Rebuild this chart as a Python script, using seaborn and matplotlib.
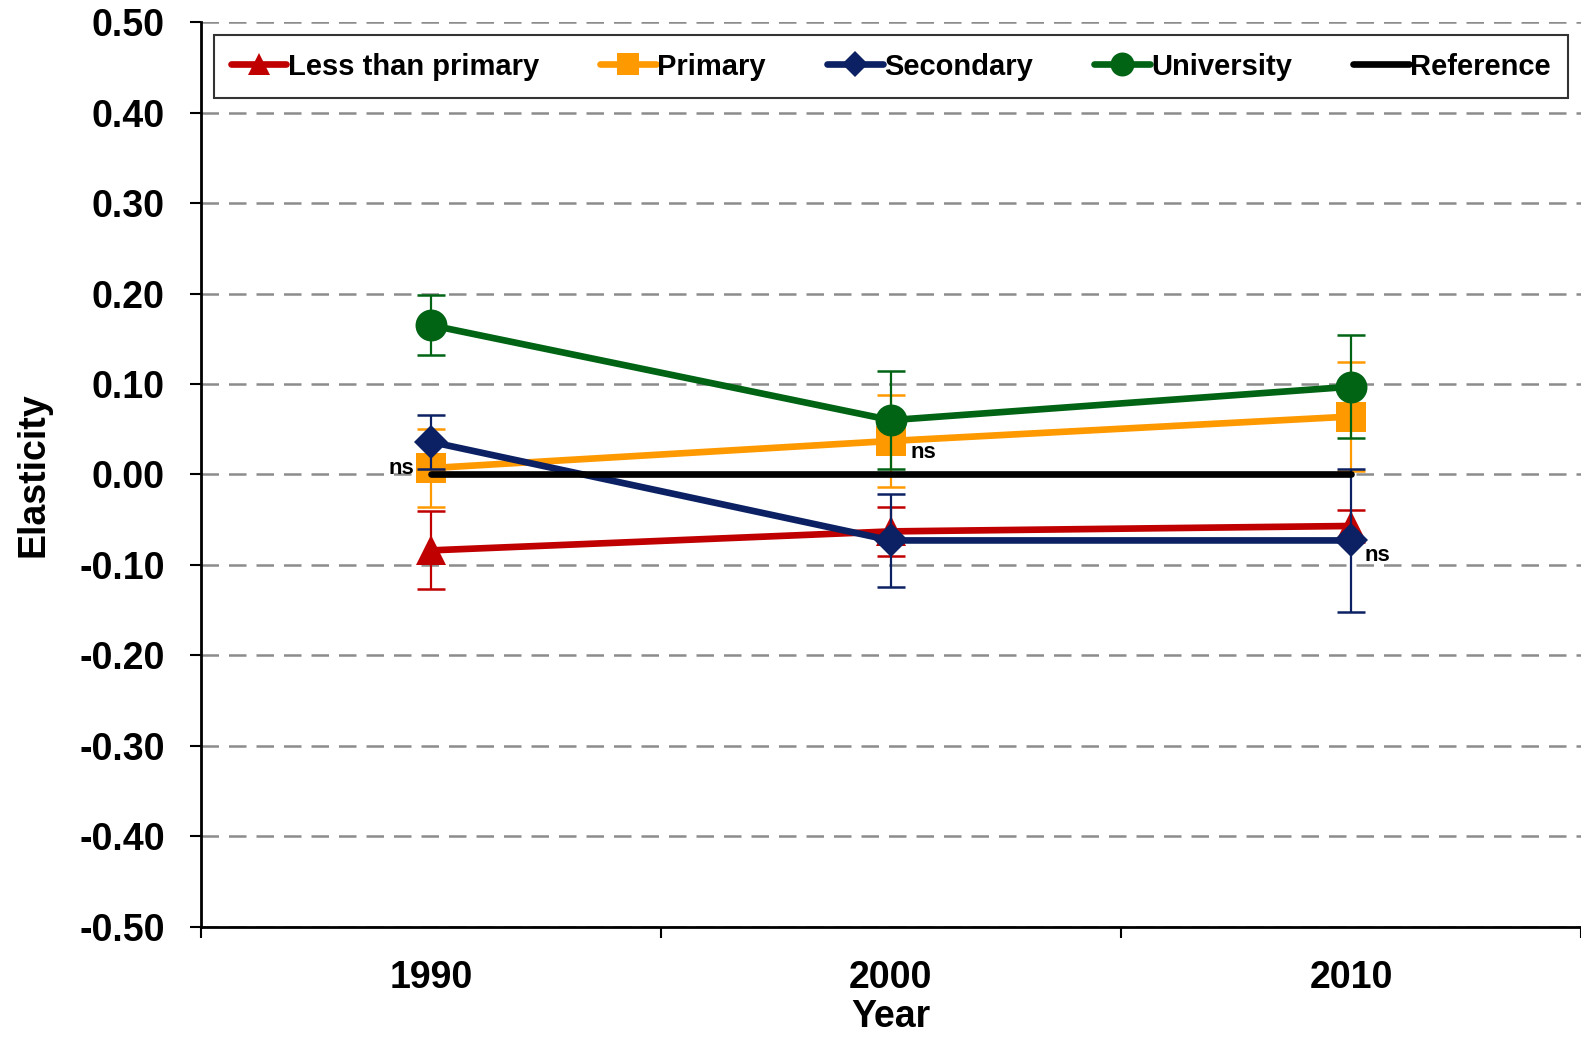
import matplotlib
matplotlib.use("Agg")
import matplotlib.pyplot as plt
import seaborn as sns
import pandas as pd
import numpy as np

years = ["1990", "2000", "2010"]
series = ["Less than primary", "Primary", "Secondary", "University"]
less_primary = [-0.084, -0.063, -0.057]
less_primary_err = [0.043, 0.027, 0.018]
primary = [0.007, 0.037, 0.064]
primary_err = [0.043, 0.051, 0.060]
secondary = [0.036, -0.073, -0.073]
secondary_err = [0.030, 0.051, 0.079]
university = [0.165, 0.060, 0.097]
university_err = [0.033, 0.054, 0.057]
reference = [0.0, 0.0, 0.0]
ns_labels = [("Primary", 0, "left"), ("Primary", 1, "right"), ("Secondary", 2, "right")]

colors = {"Less than primary": "#C00000", "Primary": "#FF9900",
          "Secondary": "#0B2163", "University": "#006414", "Reference": "#000000"}
markers = {"Less than primary": "^", "Primary": "s", "Secondary": "D",
           "University": "o", "Reference": None}
msizes = {"Less than primary": 22, "Primary": 21, "Secondary": 17, "University": 23}

vals = {"Less than primary": less_primary, "Primary": primary,
        "Secondary": secondary, "University": university, "Reference": reference}
errs = {"Less than primary": less_primary_err, "Primary": primary_err,
        "Secondary": secondary_err, "University": university_err}

rows = []
for name, v in vals.items():
    for i, y in enumerate(v):
        rows.append({"series": name, "x": i, "value": y})
df = pd.DataFrame(rows)

sns.set_theme(style="white")
plt.rcParams['font.family'] = ['Liberation Sans', 'DejaVu Sans']
plt.rcParams['font.weight'] = 'bold'
for k in ["text.color", "axes.labelcolor", "xtick.color", "ytick.color"]:
    plt.rcParams[k] = "black"

fig = plt.figure(figsize=(15.81, 10.38), dpi=100)
ax = fig.add_axes([0.127, 0.1073, 0.873, 0.8713])

z = 3
for name in ["Less than primary", "Primary", "Secondary", "University", "Reference"]:
    sub = df[df["series"] == name]
    if name in errs:
        ax.errorbar(sub["x"], sub["value"], yerr=errs[name], fmt="none",
                    ecolor=colors[name], elinewidth=1.6, capsize=10, capthick=1.8,
                    zorder=z)
    sns.lineplot(data=sub, x="x", y="value", ax=ax, color=colors[name],
                 linewidth=4.8, marker=markers[name],
                 markersize=msizes.get(name, 0), markeredgewidth=0,
                 label=name, zorder=z + 0.5, estimator=None, errorbar=None)
    z += 1

for name, i, side in ns_labels:
    y = vals[name][i]
    if side == "left":
        ax.annotate("ns", (i, y), xytext=(-12, 0), textcoords="offset points",
                    ha="right", va="center", fontsize=16, fontweight="bold", zorder=20)
    else:
        ax.annotate("ns", (i, y), xytext=(14, -8) if i == 1 else (10, -11),
                    textcoords="offset points", ha="left", va="center",
                    fontsize=16, fontweight="bold", zorder=20)

ticks = np.round(np.arange(-0.5, 0.51, 0.1), 2)
ax.set_xlim(-0.5, 2.5)
ax.set_ylim(-0.5, 0.5)
ax.set_xticks([0, 1, 2])
ax.set_xticklabels(years)
ax.set_xticks([-0.5, 0.5, 1.5, 2.5], minor=True)
ax.set_yticks(ticks)
ax.set_yticklabels([f"{t:.2f}".replace("-0.00", "0.00") for t in ticks])
ax.tick_params(axis="x", which="major", length=0, pad=24, labelsize=27)
ax.tick_params(axis="x", which="minor", length=8, width=1.5, direction="out", bottom=True, color="black")
ax.tick_params(axis="y", which="major", length=8, width=1.5, direction="out", left=True, labelsize=27, pad=18, color="black")
for lab in ax.get_xticklabels() + ax.get_yticklabels():
    lab.set_fontweight("bold")

ax.yaxis.grid(True, linestyle=(0, (7, 4)), color="#8c8c8c", linewidth=1.8)
ax.set_axisbelow(True)
for s in ["top", "right"]:
    ax.spines[s].set_visible(False)
for s in ["left", "bottom"]:
    ax.spines[s].set_color("black")
    ax.spines[s].set_linewidth(2)

ax.set_xlabel("Year", fontsize=27, fontweight="bold", labelpad=0)
ax.xaxis.set_label_coords(0.5, -0.080)
ax.set_ylabel("Elasticity", fontsize=27, fontweight="bold")
ax.yaxis.set_label_coords(-0.108, 0.5)

leg = ax.legend(loc="center", bbox_to_anchor=(0.5, 0.951), ncol=5,
                fontsize=21, frameon=True, fancybox=False, edgecolor="black",
                handlelength=1.9, handletextpad=0.05, columnspacing=2.1,
                markerscale=0.75, borderpad=0.6, borderaxespad=0)
leg.get_frame().set_linewidth(1.5)
for t in leg.get_texts():
    t.set_fontweight("bold")

fig.savefig("out.png", dpi=100)
